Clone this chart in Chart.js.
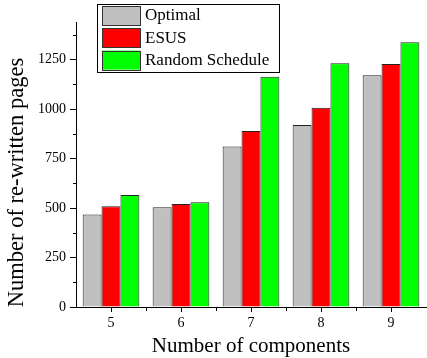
<!DOCTYPE html>
<html><head><meta charset="utf-8">
<script src="https://cdn.jsdelivr.net/npm/chart.js@4/dist/chart.umd.min.js"></script>
<style>html,body{margin:0;padding:0;background:#fff}canvas{display:block}</style>
</head><body>
<canvas id="c" width="427" height="358"></canvas>
<script>
const categories = ['5', '6', '7', '8', '9'];
const optimal = [468, 504, 811, 919, 1171];
const esus = [509, 520, 889, 1007, 1228];
const randomSchedule = [566, 529, 1163, 1232, 1338];
const yTicks = [0, 250, 500, 750, 1000, 1250];
const yMinorTicks = [125, 375, 625, 875, 1125, 1375];
const seriesNames = ['Optimal', 'ESUS', 'Random Schedule'];
const seriesColors = ['#c0c0c0', '#ff0000', '#00ff00'];
const xTitle = 'Number of components';
const yTitle = 'Number of re-written pages';

const FONT = '"Liberation Serif", "Times New Roman", serif';

const extras = {
  id: 'extras',
  afterDraw(chart) {
    const ctx = chart.ctx;
    const x = chart.scales.x, y = chart.scales.y;
    ctx.save();
    ctx.strokeStyle = '#000';
    ctx.lineWidth = 1;
    // minor y ticks
    yMinorTicks.forEach(v => {
      const py = Math.round(y.getPixelForValue(v)) + 0.5;
      ctx.beginPath();
      ctx.moveTo(x.left - 3, py);
      ctx.lineTo(x.left, py);
      ctx.stroke();
    });
    // minor x ticks between categories
    for (let i = 0; i < categories.length - 1; i++) {
      const px = Math.round((x.getPixelForValue(i) + x.getPixelForValue(i + 1)) / 2) + 0.5;
      ctx.beginPath();
      ctx.moveTo(px, y.bottom);
      ctx.lineTo(px, y.bottom + 4);
      ctx.stroke();
    }
    // axis titles
    ctx.fillStyle = '#000';
    ctx.textAlign = 'center';
    ctx.textBaseline = 'alphabetic';
    ctx.font = '21px ' + FONT;
    ctx.fillText(xTitle, (x.left + x.right) / 2, 352);
    ctx.save();
    ctx.translate(23, 182.5);
    ctx.rotate(-Math.PI / 2);
    ctx.font = '22.5px ' + FONT;
    ctx.fillText(yTitle, 0, 0);
    ctx.restore();
    // legend
    const bx = 97, by = 4, bw = 182, bh = 68;
    ctx.fillStyle = '#fff';
    ctx.fillRect(bx, by, bw, bh);
    ctx.strokeStyle = '#000';
    ctx.strokeRect(bx + 0.5, by + 0.5, bw, bh);
    ctx.font = '17px ' + FONT;
    ctx.textAlign = 'left';
    ctx.textBaseline = 'middle';
    chart.data.datasets.forEach((ds, i) => {
      const sy = 6 + i * 22.3;
      ctx.fillStyle = ds.backgroundColor;
      ctx.fillRect(102, sy, 38, 19);
      ctx.strokeStyle = '#333';
      ctx.strokeRect(102.5, Math.round(sy) + 0.5, 38, 19);
      ctx.fillStyle = '#000';
      ctx.fillText(ds.label, 145, sy + 10);
    });
    ctx.restore();
  }
};

const datasets = [optimal, esus, randomSchedule].map((d, i) => ({
  label: seriesNames[i],
  data: d,
  backgroundColor: seriesColors[i],
  borderColor: '#222',
  borderWidth: 1,
  borderSkipped: 'bottom'
}));

new Chart(document.getElementById('c'), {
  type: 'bar',
  data: { labels: categories, datasets },
  options: {
    responsive: false,
    animation: false,
    devicePixelRatio: 1,
    layout: { padding: { top: 22, right: 1, left: 0, bottom: 0 } },
    plugins: { legend: { display: false }, tooltip: { enabled: false } },
    datasets: { bar: { categoryPercentage: 0.81, barPercentage: 1.0 } },
    scales: {
      x: {
        offset: true,
        grid: { display: true, drawOnChartArea: false, offset: false, tickLength: 5, color: '#000', lineWidth: 1 },
        border: { display: true, color: '#000', width: 1 },
        ticks: { color: '#000', font: { family: FONT, size: 14 }, padding: 3, maxRotation: 0 },
        afterFit(s) { s.height = 51; }
      },
      y: {
        min: 0, max: 1440,
        afterBuildTicks(s) { s.ticks = yTicks.map(v => ({ value: v })); },
        grid: { display: true, drawOnChartArea: false, tickLength: 6, color: '#000', lineWidth: 1 },
        border: { display: true, color: '#000', width: 1 },
        ticks: { color: '#000', font: { family: FONT, size: 14 }, padding: 4, callback: v => String(v) },
        afterFit(s) { s.width = 76; }
      }
    }
  },
  plugins: [extras]
});
</script>
</body></html>
